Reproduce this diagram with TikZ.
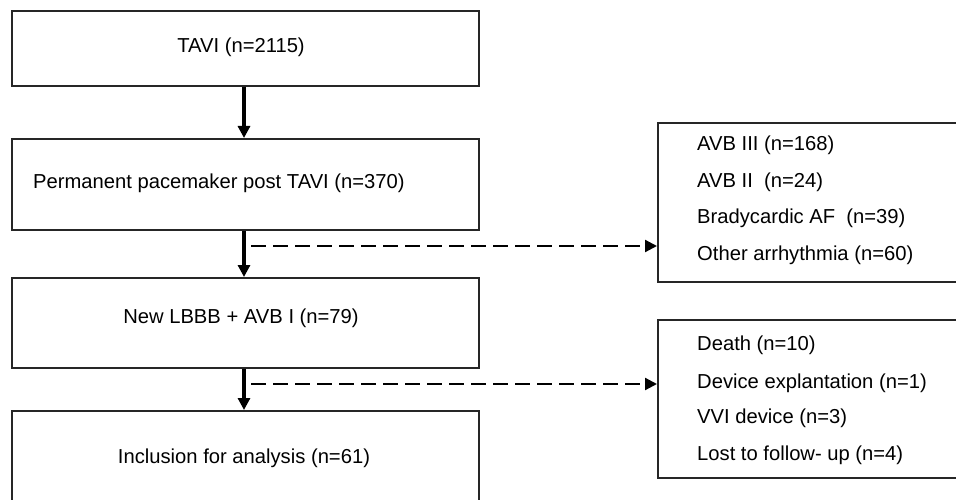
\documentclass[tikz,border=0pt]{standalone}
\usepackage{fontspec}
\setmainfont{Liberation Sans}
\usetikzlibrary{arrows.meta}
\begin{document}
\begin{tikzpicture}[x=1pt,y=-1pt,
  every node/.style={font=\fontsize{20.2}{24}\selectfont, inner sep=0pt},
  lbox/.style={draw=black!85, line width=1.8pt, minimum width=467pt, anchor=north west},
  rbox/.style={draw=black!85, line width=1.8pt, minimum width=310pt, anchor=north west},
  solidarrow/.style={line width=3.2pt, -{Triangle[length=12pt,width=12pt]}},
  dasharrow/.style={line width=2.2pt, dash pattern=on 15pt off 7pt, -{Triangle[length=12pt,width=12pt]}},
  itemtext/.style={anchor=west}
]
\clip (0,0) rectangle (956,500);
\useasboundingbox (0,0) rectangle (956,500);
% left column
\node[lbox, minimum height=75pt] (b1) at (11,10) {};
\node (t1) at (241,47) {TAVI (n=2115)};
\node[lbox, minimum height=91pt] (b2) at (11,138) {};
\node[itemtext] (t2) at (33,183) {Permanent pacemaker post TAVI (n=370)};
\node[lbox, minimum height=90pt] (b3) at (11,277) {};
\node (t3) at (241,318) {New LBBB + AVB I (n=79)};
\node[lbox, minimum height=96pt] (b4) at (11,410) {};
\node (t4) at (244,458) {Inclusion for analysis (n=61)};
% right column
\node[rbox, minimum height=159pt] (ra) at (657,122) {};
\node[itemtext] (ra1) at (697,145) {AVB III (n=168)};
\node[itemtext] (ra2) at (697,182) {AVB II\ \ (n=24)};
\node[itemtext] (ra3) at (697,218) {Bradycardic AF\ \ (n=39)};
\node[itemtext] (ra4) at (697,255) {Other arrhythmia (n=60)};
\node[rbox, minimum height=158pt] (rb) at (657,319) {};
\node[itemtext] (rb1) at (697,345) {Death (n=10)};
\node[itemtext] (rb2) at (697,383) {Device explantation (n=1)};
\node[itemtext] (rb3) at (697,418) {VVI device (n=3)};
\node[itemtext] (rb4) at (697,455) {Lost to follow- up (n=4)};
% connectors
\draw[solidarrow] (b1.south -| 244,0) -- (b2.north -| 244,0);
\draw[solidarrow] (b2.south -| 244,0) -- (b3.north -| 244,0);
\draw[solidarrow] (b3.south -| 244,0) -- (b4.north -| 244,0);
\coordinate (d1) at (251,246);
\coordinate (d2) at (251,384);
\draw[dasharrow] (d1) -- (d1 -| ra.west);
\draw[dasharrow] (d2) -- (d2 -| rb.west);
\end{tikzpicture}
\end{document}
